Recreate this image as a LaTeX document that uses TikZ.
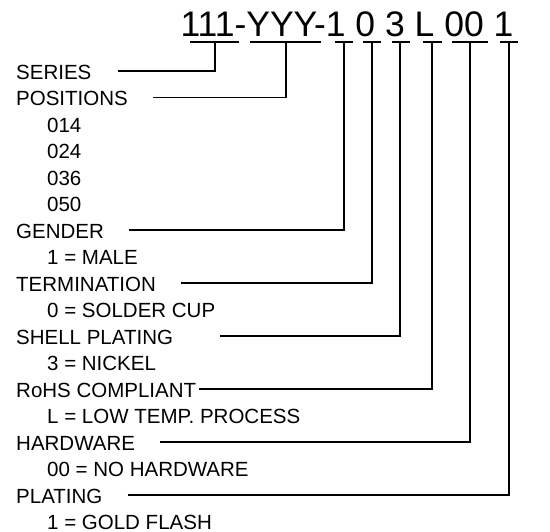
\documentclass[tikz,border=0pt]{standalone}
\usepackage{fontspec}
\setmainfont{Liberation Sans}

\begin{document}
\begin{tikzpicture}[x=1pt,y=-1pt,
		lbl/.style={anchor=west,inner sep=0pt,font=\fontsize{20.5}{24}\selectfont},
		bar/.style={line width=2.6pt},
		lead/.style={line width=1.2pt}]
		\def\barY{42}
		\def\rowH{26.5}
		\useasboundingbox (0,0) rectangle (550,532);
		
		\node[inner sep=0pt,anchor=base,font=\fontsize{35.5}{40}\selectfont] (code) at (347,37) {111-YYY-1 0 3 L 00 1};
		
		%underlines of the code
		\foreach \nm/\xa/\xb/\xs in {ser/190/239/215, pos/250/321/286, gen/335/353/344, ter/363/381/372, she/392/410/400, rohs/423/442/432, hw/452/488/470, pl/500/518/509}{
			\draw[bar] (\xa,\barY) -- (\xb,\barY);
			\coordinate (\nm-bar) at (\xs,\barY);
		}
		
		%headings
		\foreach \txt/\nm/\row in {SERIES/ser/0, POSITIONS/pos/1, GENDER/gen/6, TERMINATION/ter/8, SHELL PLATING/she/10, RoHS COMPLIANT/rohs/12, HARDWARE/hw/14, PLATING/pl/16}
			\node[lbl] (\nm) at (16,72+\rowH*\row) {\txt};
		
		%options
		\foreach \txt/\row in {014/2, 024/3, 036/4, 050/5, 1 = MALE/7, 0 = SOLDER CUP/9, 3 = NICKEL/11, L = LOW TEMP. PROCESS/13, 00 = NO HARDWARE/15, 1 = GOLD FLASH/17}
			\node[lbl] (opt\row) at (47,72+\rowH*\row) {\txt};
		
		%leaders
		\foreach \nm/\gap in {ser/26, pos/25, gen/25, ter/25, she/47, rohs/3, hw/25, pl/25}
			\draw[lead] ([xshift=\gap pt,yshift=1pt]\nm.east) -- ([yshift=1pt]\nm.east -| \nm-bar) -- (\nm-bar);
	\end{tikzpicture}
\end{document}
